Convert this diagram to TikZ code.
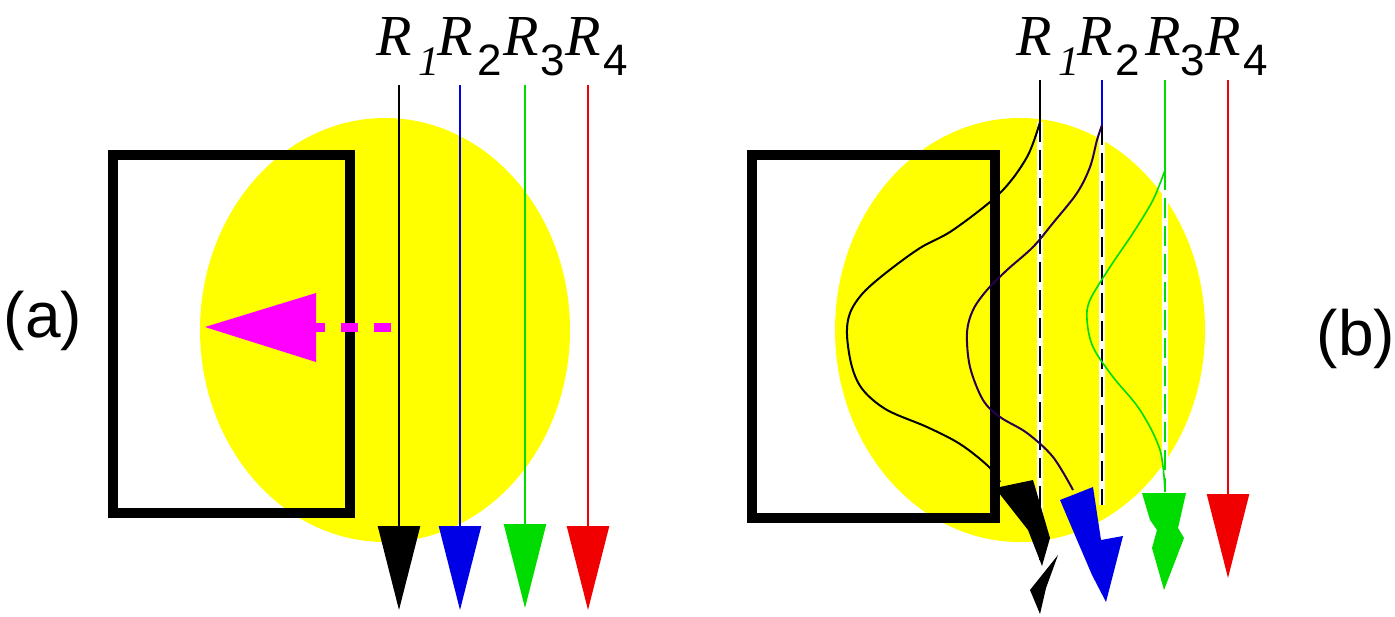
\documentclass[tikz,border=0pt]{standalone}
\usepackage{fontspec}
\usetikzlibrary{arrows.meta}
\newfontfamily\rserif{Liberation Serif}
\newfontfamily\lsans{Liberation Sans}
\definecolor{ylw}{RGB}{255,255,0}
\definecolor{mag}{RGB}{255,0,255}
\definecolor{gr}{RGB}{0,220,0}
\definecolor{bl}{RGB}{0,0,230}
\definecolor{rd}{RGB}{240,0,0}
\definecolor{navy}{RGB}{40,0,80}
\begin{document}
\begin{tikzpicture}[x=0.5pt,y=-0.5pt,
  rlab/.style={inner sep=0pt,anchor=base west,font=\rserif\itshape\fontsize{29}{29}\selectfont},
  sublab/.style={inner sep=0pt,anchor=base west,font=\lsans\fontsize{22}{22}\selectfont},
  sub1/.style={inner sep=0pt,anchor=base west,font=\rserif\itshape\fontsize{21}{21}\selectfont},
  panlab/.style={inner sep=0pt,font=\lsans\fontsize{32}{32}\selectfont},
  frame/.style={draw=black,line width=5pt},
  ray/.style={line width=1.2pt},
  rayhead/.style={ray,-{Triangle[length=42pt,width=21pt]}},
  dashray/.style={line width=1.2pt,dash pattern=on 10pt off 4pt},
  under/.style={draw=white,line width=2.6pt},
  wave/.style={line width=1pt}]
\useasboundingbox (0,0) rectangle (1395,616);
\fill[white] (0,0) rectangle (1395,616);

% ---------------- panel (a)
\fill[ylw] (385,330) ellipse [x radius=185, y radius=212];
\draw[frame] (113,155) rectangle (350,513);
\coordinate (mA) at (391,327);
\coordinate (mB) at (316,327);
\coordinate (mT) at (205,327);
\draw[mag,line width=4.5pt,dash pattern=on 8.5pt off 8pt] (mA) -- (mB);
\fill[mag] (mT) -- (316,293) -- (316,362) -- cycle;

\coordinate (a1t) at (399,85);  \coordinate (a1b) at (399,610);
\coordinate (a2t) at (460,85);  \coordinate (a2b) at (460,610);
\coordinate (a3t) at (525,85);  \coordinate (a3b) at (525,608);
\coordinate (a4t) at (588,85);  \coordinate (a4b) at (588,610);
\draw[rayhead,black] (a1t) -- (a1b);
\draw[rayhead,bl] (a2t) -- (a2b);
\draw[rayhead,gr] (a3t) -- (a3b);
\draw[rayhead,rd] (a4t) -- (a4b);

\node[rlab] (aR1) at (376,55) {R};
\node[sub1] (aS1) at (418,75) {1};
\node[rlab] (aR2) at (437,55) {R};
\node[sublab] (aS2) at (477,75) {2};
\node[rlab] (aR3) at (503,55) {R};
\node[sublab] (aS3) at (540,75) {3};
\node[rlab] (aR4) at (565,55) {R};
\node[sublab] (aS4) at (603,75) {4};

\node[panlab] (pa) at (43,321) {(a)};

% ---------------- panel (b)
\fill[ylw] (1020,330) ellipse [x radius=185, y radius=212];
\draw[frame] (752,155) rectangle (995,518);

\coordinate (b1t) at (1040,80);  \coordinate (b1m) at (1040,122); \coordinate (b1b) at (1040,560);
\coordinate (b2t) at (1102,80);  \coordinate (b2m) at (1102,125); \coordinate (b2b) at (1102,505);
\coordinate (b3t) at (1165,80);  \coordinate (b3m) at (1165,170); \coordinate (b3b) at (1165,492);
\coordinate (b4t) at (1228,80);  \coordinate (b4b) at (1228,578);

% dashed straight rays
\draw[under] (b1m) -- (b1b);
\draw[dashray,black] (b1m) -- (b1b);
\draw[under] (b2m) -- (b2b);
\draw[dashray,black] (b2m) -- (b2b);
\draw[under] (b3m) -- (b3b);
\draw[dashray,gr] (b3m) -- (b3b);

% solid tops
\draw[ray,black] (b1t) -- (b1m);
\draw[ray,bl] (b2t) -- (b2m);
\draw[ray,gr] (b3t) -- (b3m);
\draw[rayhead,rd] (b4t) -- (b4b);

% bent rays
\draw[wave,black] plot[smooth,tension=0.55] coordinates {(1040,122) (1027,157) (1000,193) (953,230) (920,248) (887,272) (863,293) (850,313) (847,335) (852,367) (863,390) (887,410) (927,427) (960,444) (988,466) (1000,482)};
\draw[wave,navy] plot[smooth,tension=0.55] coordinates {(1102,125) (1097,140) (1090,167) (1077,193) (1053,223) (1033,247) (1007,270) (987,290) (973,310) (967,333) (970,367) (983,400) (1000,417) (1027,433) (1053,457) (1073,490)};
\draw[wave,gr,line width=0.8pt] plot[smooth,tension=0.55] coordinates {(1165,170) (1153,200) (1133,233) (1110,267) (1090,300) (1087,320) (1093,347) (1113,377) (1140,410) (1160,450) (1165,492)};

% broken arrowheads
\fill[black] (995,488) -- (1033,480) -- (1050,538) -- (1042,566) -- (1028,530) -- cycle;
\fill[black] (1058,555) -- (1030,590) -- (1040,614) -- (1046,588) -- cycle;
\fill[bl] (1060,500) -- (1093,487) -- (1101,540) -- (1123,536) -- (1106,602) -- (1092,575) -- (1077,540) -- cycle;
\fill[gr] (1142,493) -- (1186,493) -- (1178,528) -- (1184,538) -- (1164,590) -- (1152,548) -- (1157,530) -- (1150,520) -- cycle;

\node[rlab] (bR1) at (1016,55) {R};
\node[sub1] (bS1) at (1058,75) {1};
\node[rlab] (bR2) at (1077,55) {R};
\node[sublab] (bS2) at (1115,75) {2};
\node[rlab] (bR3) at (1145,55) {R};
\node[sublab] (bS3) at (1180,75) {3};
\node[rlab] (bR4) at (1205,55) {R};
\node[sublab] (bS4) at (1243,75) {4};

\node[panlab] (pb) at (1356,339) {(b)};
\end{tikzpicture}
\end{document}
